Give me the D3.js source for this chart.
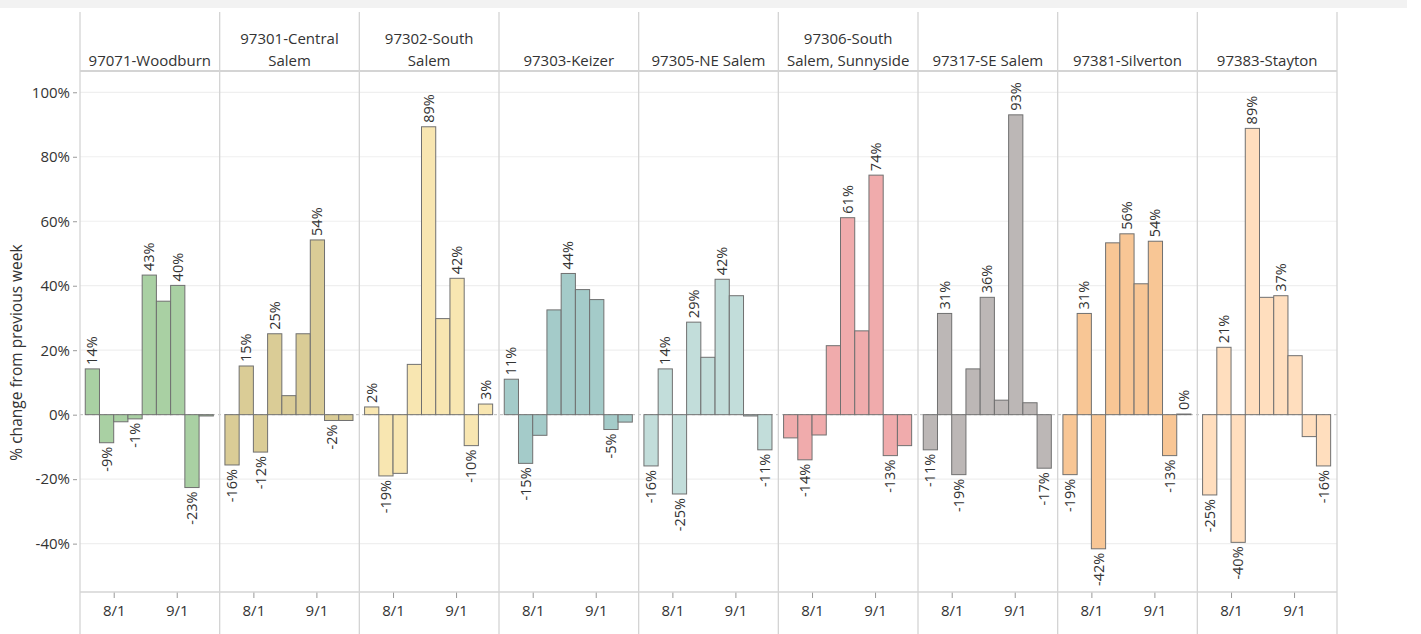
<!DOCTYPE html>
<html><head><meta charset="utf-8">
<script src="https://cdn.jsdelivr.net/npm/d3@7"></script>
<style>
html,body{margin:0;padding:0;background:#fff;}
svg{display:block;font-family:"Open Sans",sans-serif;}
</style></head>
<body><svg id="c" width="1421" height="634"></svg>
<script>
// ---------- data ----------
const zips = ["97071-Woodburn","97301-Central Salem","97302-South Salem","97303-Keizer","97305-NE Salem","97306-South Salem, Sunnyside","97317-SE Salem","97381-Silverton","97383-Stayton"];
const headerLines = [["97071-Woodburn"],["97301-Central","Salem"],["97302-South","Salem"],["97303-Keizer"],["97305-NE Salem"],["97306-South","Salem, Sunnyside"],["97317-SE Salem"],["97381-Silverton"],["97383-Stayton"]];
const weeks = ["2021-07-18","2021-07-25","2021-08-01","2021-08-08","2021-08-15","2021-08-22","2021-08-29","2021-09-05","2021-09-12"];
const woodburn   = [14.2,-8.7,-2.2,-1.3,43.3,35.2,40.1,-22.6,-0.4];
const central    = [-15.6,15.1,-11.6,25.1,5.9,25.1,54.2,-1.8,-1.8];
const southSalem = [2.4,-19.0,-18.2,15.6,89.3,29.8,42.3,-9.6,3.3];
const keizer     = [11.0,-15.1,-6.4,32.5,43.8,38.8,35.7,-4.6,-2.3];
const neSalem    = [-15.9,14.2,-24.6,28.7,17.8,42.0,36.9,-0.4,-10.9];
const sunnyside  = [-7.2,-14.0,-6.3,21.4,61.1,26.0,74.3,-12.7,-9.6];
const seSalem    = [-10.9,31.4,-18.6,14.2,36.4,4.5,93.0,3.7,-16.6];
const silverton  = [-18.6,31.4,-41.6,53.3,56.1,40.6,53.8,-12.7,0.2];
const stayton    = [-24.9,20.9,-39.6,88.8,36.4,36.9,18.3,-6.8,-15.9];
const seriesValues = [woodburn,central,southSalem,keizer,neSalem,sunnyside,seSalem,silverton,stayton];
// indices of bars that carry a value label
const labelled = [[0,1,3,4,6,7],[0,1,2,3,6,7],[0,1,4,6,7,8],[0,1,4,7],[0,1,2,3,5,8],[1,4,6,7],[0,1,2,4,6,8],[0,1,2,4,6,7,8],[0,1,2,3,5,8]];
const colors = ["#A9D0A3","#DACC96","#F8E6B1","#A4CBC9","#C2DDDA","#F0ABAC","#BCB7B6","#F8C695","#FFDEBE"];
const yTicks = [-0.4,-0.2,0,0.2,0.4,0.6,0.8,1.0];
const xTickDates = ["2021-08-01","2021-09-01"];
const xTickLabels = ["8/1","9/1"];
const yTitle = "% change from previous week";

// ---------- layout ----------
const svg = d3.select("#c");
const L = 80, R = 1337, top0 = 12, headBot = 71, plotBot = 592, H = 634;
const loc = d3.formatLocale({decimal:".",thousands:",",grouping:[3],currency:["$",""],minus:"-"});
const pct = loc.format(".0%");
const day = 864e5;

const fx = d3.scaleBand().domain(zips).range([L, R]).paddingInner(0).paddingOuter(0);
const y = d3.scaleLinear().domain([-0.55, 1.066]).range([plotBot, headBot]);
const parse = d3.utcParse("%Y-%m-%d");
const x = d3.scaleUtc().domain([new Date(Date.UTC(2021,6,15,10)), new Date(Date.UTC(2021,8,22,3))]).range([0, fx.bandwidth()]);

// top band
svg.append("rect").attr("x",0).attr("y",0).attr("width",1407).attr("height",8).attr("fill","#f2f2f2");

// grid lines
svg.append("g").selectAll("line").data(yTicks.filter(d=>d!==0)).join("line")
  .attr("x1",L).attr("x2",R).attr("y1",d=>y(d)).attr("y2",d=>y(d))
  .attr("stroke","#efefef").attr("stroke-width",1.2);
// zero line
svg.append("line").attr("x1",L).attr("x2",R).attr("y1",y(0)).attr("y2",y(0))
  .attr("stroke","#bdbdbd").attr("stroke-dasharray","3,3");

// y axis
const yAxis = d3.axisLeft(y).tickValues(yTicks).tickFormat(pct).tickSize(4).tickPadding(3);
const gy = svg.append("g").attr("transform",`translate(${L-3},0)`).call(yAxis);
gy.select(".domain").remove();
gy.selectAll(".tick line").attr("stroke","#999");
gy.selectAll("text").attr("font-size",15).attr("fill","#333").attr("font-family","Open Sans");

svg.append("text").attr("transform",`translate(22,${(headBot+H)/2}) rotate(-90)`)
  .attr("text-anchor","middle").attr("font-size",15.5).attr("fill","#333").text(yTitle);

// panels
zips.forEach((z,i)=>{
  const g = svg.append("g").attr("transform",`translate(${fx(z)},0)`);
  const vals = seriesValues[i];
  const data = weeks.map((w,k)=>({d:parse(w), v:vals[k]/100, k}));
  g.selectAll("rect.bar").data(data).join("rect").attr("class","bar")
    .attr("x",d=>x(d.d)).attr("width",d=>x(new Date(+d.d+7*day))-x(d.d))
    .attr("y",d=>Math.min(y(d.v),y(0))).attr("height",d=>Math.abs(y(d.v)-y(0)))
    .attr("fill",colors[i]).attr("stroke","#707070").attr("stroke-width",1);
  const lab = data.filter(d=>labelled[i].includes(d.k));
  g.selectAll("text.lab").data(lab).join("text").attr("class","lab")
    .attr("transform",d=>{
      const cx = (x(d.d)+x(new Date(+d.d+7*day)))/2;
      const yy = d.v>=0 ? y(d.v)-4 : y(d.v)+4;
      return `translate(${cx},${yy}) rotate(-90)`;})
    .attr("text-anchor",d=>d.v>=0?"start":"end").attr("dy","0.35em")
    .attr("font-size",14.5).attr("fill","#333").text(d=>pct(Math.round(d.v*100)/100));
  // x axis
  const xAxis = d3.axisBottom(x).tickValues(xTickDates.map(parse)).tickFormat((d,j)=>xTickLabels[j]).tickSize(6).tickPadding(7);
  const gx = g.append("g").attr("transform",`translate(0,${plotBot})`).call(xAxis);
  gx.select(".domain").remove();
  gx.selectAll(".tick line").attr("stroke","#999");
  gx.selectAll("text").attr("font-size",15).attr("fill","#333").attr("font-family","Open Sans");
  // header
  const hl = headerLines[i];
  g.append("text").attr("text-anchor","middle").attr("font-size",15).attr("fill","#333")
    .selectAll("tspan").data(hl).join("tspan")
    .attr("x",fx.bandwidth()/2).attr("y",(d,j)=>66-(hl.length-1-j)*22).text(d=>d);
});

// frame lines
svg.append("g").selectAll("line").data(d3.range(zips.length+1)).join("line")
  .attr("x1",j=>L+j*fx.bandwidth()).attr("x2",j=>L+j*fx.bandwidth())
  .attr("y1",top0).attr("y2",H).attr("stroke","#d4d4d4").attr("stroke-width",1.3);
svg.append("line").attr("x1",L).attr("x2",R).attr("y1",headBot).attr("y2",headBot).attr("stroke","#d4d4d4").attr("stroke-width",2);
svg.append("line").attr("x1",L).attr("x2",R).attr("y1",plotBot).attr("y2",plotBot).attr("stroke","#d4d4d4").attr("stroke-width",1.3);
</script></body></html>
